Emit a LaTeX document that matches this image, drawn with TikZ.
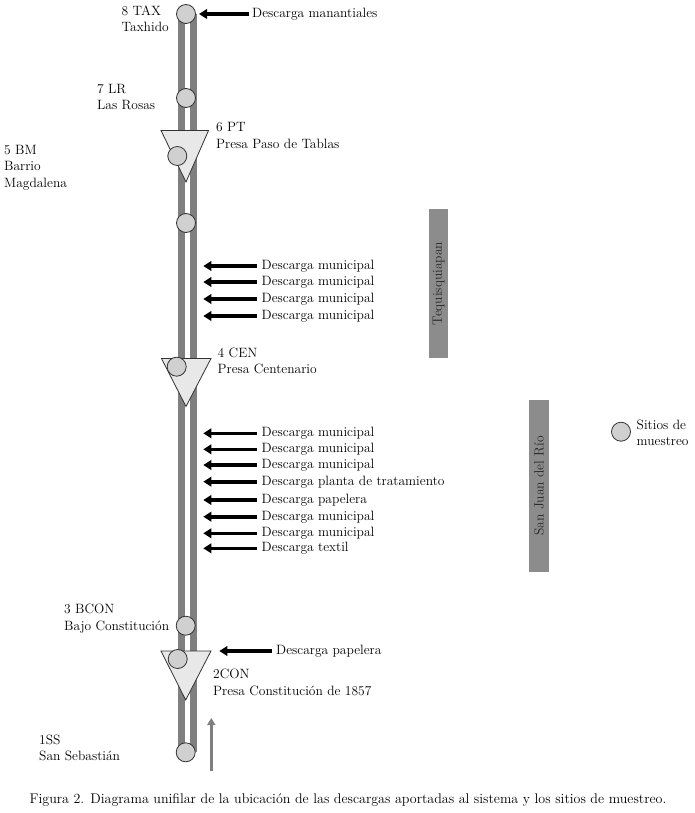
\documentclass[tikz,border=0pt]{standalone}
\usetikzlibrary{arrows.meta}
\definecolor{railgray}{HTML}{7F7F80}
\definecolor{boxgray}{HTML}{8C8C8C}
\definecolor{sitefill}{HTML}{D0D0D0}
\definecolor{damfill}{HTML}{E8E8E8}
\definecolor{linegray}{HTML}{333333}
\tikzset{
  rail/.style={draw=railgray, line width=7pt},
  site/.style={circle, draw=linegray, fill=sitefill, minimum size=19pt, inner sep=0pt, line width=0.8pt},
  dam/.style={draw=linegray, fill=damfill, line width=0.8pt, line join=miter},
  lbl/.style={anchor=west, align=left, inner sep=2pt, font=\fontsize{13.5}{16.5}\selectfont},
  dis/.style={draw=black, line width=3.6pt, -{Triangle[width=9.5pt,length=8pt]}},
  flow/.style={draw=railgray, line width=2.8pt, -{Triangle[width=8pt,length=7pt]}},
  town/.style={fill=boxgray, rotate=90, inner sep=0pt, text=black!85, font=\fontsize{13.5}{16}\selectfont},
}
\begin{document}
\begin{tikzpicture}[x=1pt,y=-1pt]
\path[use as bounding box, fill=white] (0,0) rectangle (694,813);
% rails
\coordinate (rlt) at (181.5,14); \coordinate (rlb) at (181.5,752);
\coordinate (rrt) at (193,14); \coordinate (rrb) at (193,752);
\draw[rail] (rlt) -- (rlb);
\draw[rail] (rrt) -- (rrb);
% dams
\draw[dam] (161,130.5) coordinate (d6a) -- (208.5,130.5) -- (186,182) -- cycle;
\draw[dam] (161.5,358.5) coordinate (d4a) -- (211,358.5) -- (186,406.5) -- cycle;
\draw[dam] (161,651) coordinate (d2a) -- (211,651) -- (185.7,700) -- cycle;
% sites
\node[site] (s8) at (186,14) {};
\node[site] (s7) at (186,98) {};
\node[site] (s5) at (177.3,156) {};
\node[site] (sx) at (186,223) {};
\node[site] (s4) at (176.7,366.7) {};
\node[site] (s3) at (185.7,625.7) {};
\node[site] (s2) at (177.7,659) {};
\node[site] (s1) at (185.7,752.3) {};
% site labels
\node[lbl] (l8) at (119.5,19) {8 TAX\\Taxhido};
\node[lbl] (l7) at (95,97) {7 LR\\Las Rosas};
\node[lbl] (l6) at (214,135.5) {6 PT\\Presa Paso de Tablas};
\node[lbl] (l5) at (2,167.5) {5 BM\\Barrio\\Magdalena};
\node[lbl] (l4) at (215.5,361) {4 CEN\\Presa Centenario};
\node[lbl] (l3) at (62,618.5) {3 BCON\\Bajo Constituci\'on};
\node[lbl] (l2) at (211,682.5) {2CON\\Presa Constituci\'on de 1857};
\node[lbl] (l1) at (37,748) {1SS\\San Sebasti\'an};
% discharges
\node[lbl] (dm) at (250,14) {Descarga manantiales};
\coordinate (tm) at (199,14);
\draw[dis] ([xshift=-1pt]dm.west) -- (tm);
\foreach \i/\y/\t in {a/266/Descarga municipal, b/282/Descarga municipal, c/299/Descarga municipal, d/316/Descarga municipal,
  e/433.3/Descarga municipal, f/449.3/Descarga municipal, g/465/Descarga municipal, h/481.7/Descarga planta de tratamiento,
  i/500/Descarga papelera, j/516.7/Descarga municipal, k/533.3/Descarga municipal, l/548.3/Descarga textil}{
  \node[lbl] (d\i) at (259.5,\y) {\t};
  \coordinate (t\i) at (203.3,\y);
  \draw[dis] ([xshift=-3pt]d\i.west) -- (t\i);
}
\node[lbl] (dp) at (274,651) {Descarga papelera};
\coordinate (tp) at (219.3,651);
\draw[dis] ([xshift=-2.5pt]dp.west) -- (tp);
% flow arrow
\coordinate (fa) at (211.3,771); \coordinate (fb) at (211.3,718);
\draw[flow] (fa) -- (fb);
% towns
\node[town, minimum width=149.5pt, minimum height=18.5pt] (tq) at (438.5,283.7) {Tequisquiapan};
\node[town, minimum width=171.7pt, minimum height=20pt] (sj) at (539,485.8) {San Juan del R\'io};
% legend
\node[site] (lg) at (621,431.7) {};
\node[lbl] (lgt) at (634.5,433) {Sitios de\\muestreo};
% caption
\node[inner sep=0pt, font=\fontsize{14}{16}\selectfont] (cap) at (348,800) {Figura 2. Diagrama unifilar de la ubicaci\'on de las descargas aportadas al sistema y los sitios de muestreo.};
\end{tikzpicture}
\end{document}
